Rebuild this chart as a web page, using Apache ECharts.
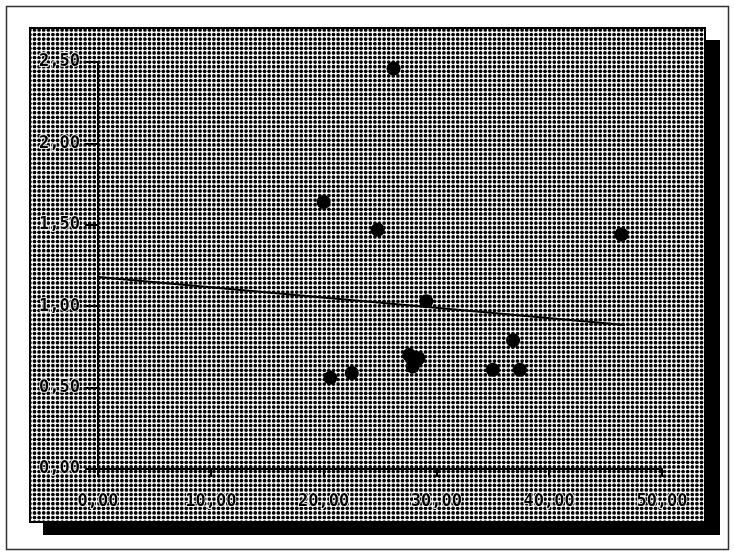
<!DOCTYPE html>
<html>
<head>
<meta charset="utf-8">
<script src="https://cdn.jsdelivr.net/npm/echarts@6/dist/echarts.min.js"></script>
<style>
  html, body { margin: 0; padding: 0; background: #fff; }
  #chart { width: 734px; height: 555px; }
</style>
</head>
<body>
<div id="chart"></div>
<script>
// scatter points
const xValues = [26.2, 20.0, 24.8, 46.4, 29.1, 36.8, 27.6, 28.4, 27.9, 20.6, 22.5, 35.0, 37.4];
const yValues = [2.46, 1.64, 1.47, 1.44, 1.03, 0.79, 0.70, 0.68, 0.63, 0.56, 0.59, 0.61, 0.61];
// trend line end points
const trendX = [0, 46.7];
const trendY = [1.18, 0.885];
// axis ranges
const xTicks = [0, 10, 20, 30, 40, 50];
const yTicks = [0, 0.5, 1.0, 1.5, 2.0, 2.5];

const fmt = v => v.toFixed(2).replace('.', ',');

// dotted screen texture for the panel
function makeDots() {
  const c = document.createElement('canvas');
  c.width = 23; c.height = 23;
  const g = c.getContext('2d');
  g.fillStyle = '#fff';
  g.fillRect(0, 0, 23, 23);
  g.fillStyle = '#000';
  for (let i = 0; i < 5; i++) {
    for (let j = 0; j < 5; j++) {
      g.beginPath();
      g.arc(i * 4.6 + 2.3, j * 4.6 + 2.3, 1.85, 0, Math.PI * 2);
      g.fill();
    }
  }
  return c;
}

const chart = echarts.init(document.getElementById('chart'));
const labelFont = {
  color: '#000', fontFamily: 'DejaVu Sans Mono', fontWeight: 'bold', fontSize: 17,
  textBorderColor: '#fff', textBorderWidth: 1.5
};

chart.setOption({
  backgroundColor: '#fff',
  animation: false,
  graphic: [
    // outer frame
    { type: 'rect', z: -30, shape: { x: 6.5, y: 6.5, width: 722, height: 543 },
      style: { fill: '#fff', stroke: '#333', lineWidth: 1.5 } },
    // drop shadow
    { type: 'rect', z: -20, shape: { x: 43, y: 40, width: 677, height: 495 },
      style: { fill: '#000' } },
    // dotted panel
    { type: 'rect', z: -10, shape: { x: 30, y: 28, width: 675, height: 494 },
      style: { fill: { image: makeDots(), repeat: 'repeat' }, stroke: '#000', lineWidth: 2 } }
  ],
  grid: { left: 98, right: 72, top: 62, bottom: 86 },
  xAxis: {
    type: 'value',
    min: xTicks[0], max: xTicks[xTicks.length - 1], interval: 10,
    splitLine: { show: false },
    axisLine: { onZero: false, lineStyle: { color: '#000', width: 2 } },
    axisTick: { length: 8, lineStyle: { color: '#000', width: 2 } },
    axisLabel: Object.assign({ margin: 24, formatter: fmt }, labelFont)
  },
  yAxis: {
    type: 'value',
    min: yTicks[0], max: yTicks[yTicks.length - 1], interval: 0.5,
    splitLine: { show: false },
    axisLine: { show: true, onZero: false, lineStyle: { color: '#000', width: 2 } },
    axisTick: { show: true, length: 13, lineStyle: { color: '#000', width: 2 } },
    axisLabel: Object.assign({ margin: 18, formatter: fmt }, labelFont)
  },
  series: [
    {
      type: 'line',
      data: trendX.map((x, i) => [x, trendY[i]]),
      symbol: 'none',
      lineStyle: { color: '#000', width: 2 },
      z: 3
    },
    {
      type: 'scatter',
      data: xValues.map((x, i) => [x, yValues[i]]),
      symbol: 'circle',
      symbolSize: 14,
      itemStyle: { color: '#000', opacity: 1 },
      z: 4
    }
  ]
});
</script>
</body>
</html>
